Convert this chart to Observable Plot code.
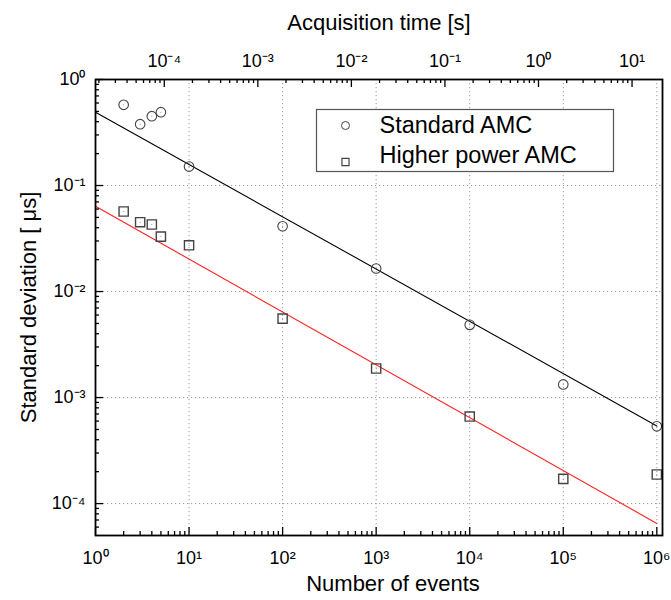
<!DOCTYPE html>
<html><head><meta charset="utf-8">
<script src="https://cdn.jsdelivr.net/npm/d3@7"></script>
<script src="https://cdn.jsdelivr.net/npm/@observablehq/plot@0.6"></script>
<style>body{margin:0;background:#fff}</style>
</head><body><div id="chart"></div>
<script>
// ---- data ----
const events = [2, 3, 4, 5, 10, 100, 1e3, 1e4, 1e5, 1e6];
const standardAMC = [0.577, 0.379, 0.451, 0.492, 0.151, 0.0413, 0.0165, 0.00485, 0.00133, 0.000536];
const higherPowerAMC = [0.0569, 0.0451, 0.0429, 0.033, 0.0273, 0.00556, 0.00188, 0.000662, 0.000171, 0.000188];
const fitEvents = [1, 1e6];
const fitStandard = [0.492, 0.00054];
const fitHigher = [0.0638, 0.000065];
const seriesNames = ["Standard AMC", "Higher power AMC"];
// ---- axes ----
const xMajor = [1, 10, 100, 1e3, 1e4, 1e5, 1e6];
const xMinorDecades = [1, 10, 100, 1e3, 1e4, 1e5];
const yMajor = [1e-4, 1e-3, 1e-2, 1e-1, 1];
const yMinorDecades = [1e-5, 1e-4, 1e-3, 1e-2, 1e-1];
const timeMajor = [1e-4, 1e-3, 1e-2, 1e-1, 1, 10];
const timeMinorDecades = [1e-5, 1e-4, 1e-3, 1e-2, 1e-1, 1];
const minorSteps = [2, 3, 4, 5, 6, 7, 8, 9];
const secondsPerEvent = 1.84e-5;
const xDomain = [1, 1.15e6];
const yDomain = [5e-5, 1];
const xTitle = "Number of events";
const yTitle = "Standard deviation [ μs]";
const topTitle = "Acquisition time [s]";

const FONT = "'Liberation Sans', Arial, Helvetica, sans-serif";
const SUP = {"0": "⁰", "1": "¹", "2": "²", "3": "³", "4": "⁴", "5": "⁵", "6": "⁶", "7": "⁷", "8": "⁸", "9": "⁹", "-": "⁻"};
const sup = d => "10" + String(Math.round(Math.log10(d))).split("").map(c => SUP[c]).join("");
const minors = (decades) => decades.flatMap(d => minorSteps.map(s => d * s));
const xMinor = minors(xMinorDecades);
const yMinor = minors(yMinorDecades).filter(v => v > yDomain[0]);
const timeToEvents = t => t / secondsPerEvent;
const topMajor = timeMajor.map(timeToEvents);
const topMinor = minors(timeMinorDecades).map(timeToEvents).filter(v => v >= xDomain[0] && v <= xDomain[1]);

const stdData = events.map((n, i) => ({n, v: standardAMC[i]}));
const hpData = events.map((n, i) => ({n, v: higherPowerAMC[i]}));
const fitStdData = fitEvents.map((n, i) => ({n, v: fitStandard[i]}));
const fitHpData = fitEvents.map((n, i) => ({n, v: fitHigher[i]}));

const W = 671, H = 600, ML = 95, MR = 9, MT = 79, MB = 65;
const FW = W - ML - MR, FH = H - MT - MB;
const gridStyle = {stroke: "#9a9a9a", strokeOpacity: 1, strokeWidth: 1, strokeDasharray: "1.2,2.8"};
const markerStroke = "#444";
const tickStyle = {stroke: "black", strokeOpacity: 1, strokeWidth: 1.3};
const bottomTicks = (data, len) => Plot.tickX(data, {x: d => d, insetTop: FH - len, ...tickStyle});
const topTicks = (data, len) => Plot.tickX(data, {x: d => d, insetBottom: FH - len, ...tickStyle});
const leftTicks = (data, len) => Plot.tickY(data, {y: d => d, insetRight: FW - len, ...tickStyle});

const chart = Plot.plot({
  width: W, height: H,
  marginLeft: ML, marginRight: MR, marginTop: MT, marginBottom: MB,
  style: {fontFamily: FONT, background: "white", color: "black"},
  x: {type: "log", domain: xDomain, axis: null},
  y: {type: "log", domain: yDomain, axis: null},
  marks: [
    Plot.ruleX(xMajor.slice(1), gridStyle),
    Plot.ruleY(yMajor.slice(0, -1), gridStyle),
    // fitted lines
    Plot.line(fitStdData, {x: "n", y: "v", stroke: "black", strokeWidth: 1.1}),
    Plot.line(fitHpData, {x: "n", y: "v", stroke: "#ff2020", strokeWidth: 1.1}),
    // measurements
    Plot.dot(stdData, {x: "n", y: "v", symbol: "circle", r: 4.8, stroke: markerStroke, strokeWidth: 1.1}),
    Plot.dot(hpData, {x: "n", y: "v", symbol: "square", r: 5.2, stroke: markerStroke, strokeWidth: 1.4}),
    Plot.dot(stdData, {x: "n", y: "v", r: 0.5, fill: "#777"}),
    Plot.dot(hpData, {x: "n", y: "v", r: 0.5, fill: "#777"}),
    // legend
    Plot.frame({insetLeft: 221, insetRight: 49, insetTop: 30, insetBottom: 364, fill: "white", stroke: "#555", strokeWidth: 1.2}),
    Plot.dot([seriesNames[0]], {frameAnchor: "top-left", dx: 250, dy: 46, symbol: "circle", r: 4, stroke: markerStroke, strokeWidth: 1}),
    Plot.dot([seriesNames[1]], {frameAnchor: "top-left", dx: 250, dy: 82.5, symbol: "square", r: 4, stroke: markerStroke, strokeWidth: 1.2}),
    Plot.text([seriesNames[0]], {frameAnchor: "top-left", dx: 284, dy: 46, textAnchor: "start", lineAnchor: "middle", fontSize: 23.5, fill: "black"}),
    Plot.text([seriesNames[1]], {frameAnchor: "top-left", dx: 284, dy: 76, textAnchor: "start", lineAnchor: "middle", fontSize: 23.5, fill: "black"}),
    // tick labels
    Plot.text(xMajor, {x: d => d, frameAnchor: "bottom", dy: 16, lineAnchor: "top", text: sup, fontSize: 18, fill: "black"}),
    Plot.text(topMajor, {x: d => d, frameAnchor: "top", dy: -13, lineAnchor: "bottom", text: (d, i) => sup(timeMajor[i]), fontSize: 18, fill: "black"}),
    Plot.text(yMajor, {y: d => d, frameAnchor: "left", dx: -10, textAnchor: "end", lineAnchor: "middle", text: sup, fontSize: 18, fill: "black"}),
    // titles
    Plot.text([xTitle], {frameAnchor: "bottom", dx: 14, dy: 55, lineAnchor: "bottom", fontSize: 22, fill: "black"}),
    Plot.text([topTitle], {frameAnchor: "top", dx: 0, dy: -57, lineAnchor: "middle", fontSize: 22, fill: "black"}),
    Plot.text([yTitle], {frameAnchor: "left", dx: -67, rotate: -90, textAnchor: "middle", lineAnchor: "middle", fontSize: 22, fill: "black"}),
    Plot.frame({stroke: "black", strokeWidth: 1.8}),
    // inward ticks
    bottomTicks(xMajor, 8), bottomTicks(xMinor, 4),
    topTicks(topMajor, 8), topTicks(topMinor, 4),
    leftTicks(yMajor, 8), leftTicks(yMinor, 4)
  ]
});
document.getElementById("chart").appendChild(chart);
</script>
</body></html>
